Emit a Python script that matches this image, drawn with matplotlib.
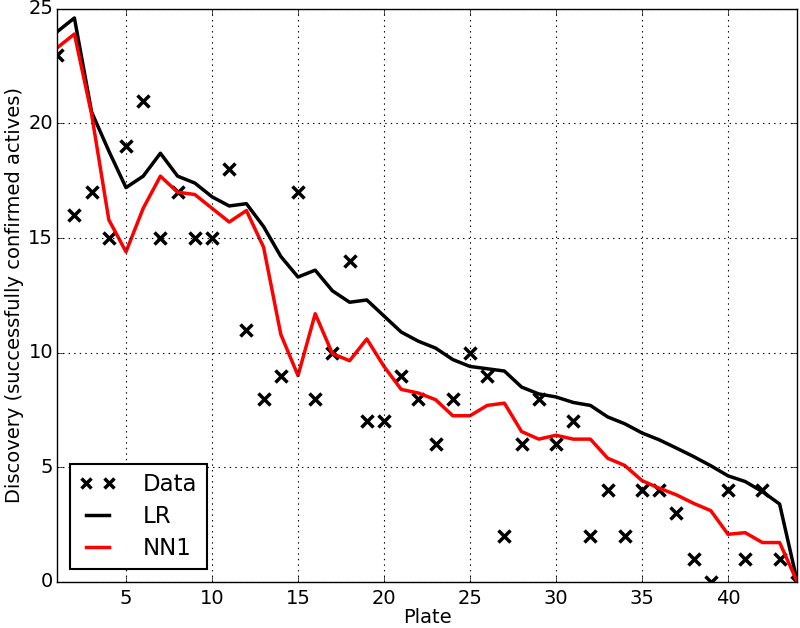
import matplotlib
matplotlib.use("Agg")
import matplotlib.pyplot as plt
import numpy as np

plates = list(range(1, 45))
data = [23, 16, 17, 15, 19, 21, 15, 17, 15, 15, 18, 11, 8, 9, 17, 8, 10, 14, 7, 7,
        9, 8, 6, 8, 10, 9, 2, 6, 8, 6, 7, 2, 4, 2, 4, 4, 3, 1, 0, 4, 1, 4, 1, 0]
lr = [24.0, 24.6, 20.5, 18.8, 17.2, 17.7, 18.7, 17.7, 17.4, 16.8, 16.4, 16.5, 15.5, 14.2,
      13.3, 13.6, 12.7, 12.2, 12.3, 11.6, 10.9, 10.5, 10.2, 9.7, 9.4, 9.3, 9.2, 8.5, 8.2,
      8.07, 7.83, 7.7, 7.2, 6.9, 6.5, 6.2, 5.84, 5.47, 5.07, 4.63, 4.38, 3.94, 3.4, 0.1]
nn1 = [23.3, 23.9, 20.4, 15.8, 14.4, 16.3, 17.7, 17.0, 16.9, 16.3, 15.7, 16.2, 14.6, 10.8,
       9.0, 11.7, 9.96, 9.65, 10.6, 9.4, 8.4, 8.24, 7.95, 7.25, 7.25, 7.7, 7.8, 6.56, 6.23,
       6.4, 6.23, 6.23, 5.4, 5.08, 4.42, 4.09, 3.8, 3.43, 3.11, 2.08, 2.15, 1.72, 1.72, 0.05]

plt.style.use('classic')
plt.rcParams['font.family'] = ['DejaVu Sans']

fig = plt.figure(figsize=(8, 6.28), dpi=100, facecolor='white')
ax = fig.add_axes([0.0715, 0.0733, 0.9245, 0.9127])

ax.plot(plates, data, 'x', color='black', markersize=9, markeredgewidth=2.5, label='Data')
ax.plot(plates, lr, '-', color='black', linewidth=2.5, label='LR')
ax.plot(plates, nn1, '-', color='red', linewidth=2.5, label='NN1')

ax.set_xlim(1, 44)
ax.set_ylim(0, 25)
ax.set_xticks([5, 10, 15, 20, 25, 30, 35, 40])
ax.set_yticks([0, 5, 10, 15, 20, 25])
ax.grid(True, linestyle=':', color='black', linewidth=0.8)
ax.tick_params(axis='x', labelsize=14, pad=5)
ax.tick_params(axis='y', labelsize=14, pad=3)
ax.set_xlabel('Plate', fontsize=14, labelpad=0)
ax.set_ylabel('Discovery (successfully confirmed actives)', fontsize=14, labelpad=3)

leg = ax.legend(loc='lower left', numpoints=2, fontsize=16.5, fancybox=False,
                borderaxespad=0.55, handlelength=1.6, handletextpad=1.2,
                labelspacing=0.4, borderpad=0.4, markerscale=0.8)
leg.get_frame().set_edgecolor('black')
leg.get_frame().set_linewidth(1.5)

fig.savefig('out.png', dpi=100, facecolor='white')
